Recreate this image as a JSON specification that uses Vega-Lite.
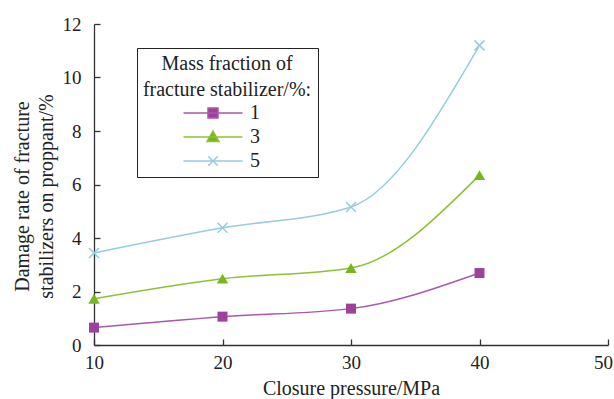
{
  "$schema": "https://vega.github.io/schema/vega-lite/v6.json",
  "width": 514,
  "height": 321,
  "autosize": {"type": "none"},
  "padding": {"left": 94, "top": 24, "right": 6, "bottom": 54},
  "background": "white",
  "config": {
    "view": {"stroke": null},
    "font": "Liberation Serif",
    "axis": {
      "grid": false,
      "domainColor": "#333333",
      "domainWidth": 1.3,
      "tickColor": "#333333",
      "tickWidth": 1.3,
      "tickSize": -6,
      "labelFont": "Liberation Serif",
      "labelFontSize": 19,
      "labelColor": "#222222",
      "titleFont": "Liberation Serif",
      "titleFontSize": 20,
      "titleFontWeight": "normal",
      "titleColor": "#222222"
    },
    "legend": {
      "orient": "none",
      "legendX": 43,
      "legendY": 24,
      "strokeColor": "#222222",
      "fillColor": "white",
      "padding": 6,
      "titleFont": "Liberation Serif",
      "titleFontSize": 20,
      "titleFontWeight": "normal",
      "titleColor": "#222222",
      "titleAlign": "center",
      "titleAnchor": "middle",
      "titleLineHeight": 26,
      "titlePadding": 2,
      "labelFont": "Liberation Serif",
      "labelFontSize": 20,
      "labelColor": "#222222",
      "labelOffset": 26,
      "symbolSize": 400,
      "symbolStrokeWidth": 1.5,
      "symbolOffset": 9,
      "symbolOpacity": 1,
      "rowPadding": 3
    }
  },
  "data": {
    "values": [
      {"pressure": 10, "rate": 0.65, "series": "1"},
      {"pressure": 20, "rate": 1.06, "series": "1"},
      {"pressure": 30, "rate": 1.36, "series": "1"},
      {"pressure": 40, "rate": 2.69, "series": "1"},
      {"pressure": 10, "rate": 1.73, "series": "3"},
      {"pressure": 20, "rate": 2.48, "series": "3"},
      {"pressure": 30, "rate": 2.88, "series": "3"},
      {"pressure": 40, "rate": 6.35, "series": "3"},
      {"pressure": 10, "rate": 3.44, "series": "5"},
      {"pressure": 20, "rate": 4.38, "series": "5"},
      {"pressure": 30, "rate": 5.16, "series": "5"},
      {"pressure": 40, "rate": 11.2, "series": "5"}
    ]
  },
  "encoding": {
    "x": {
      "field": "pressure",
      "type": "quantitative",
      "scale": {"domain": [10, 50]},
      "axis": {
        "values": [10, 20, 30, 40, 50],
        "title": "Closure pressure/MPa",
        "labelPadding": 14,
        "titlePadding": 6,
        "labelFlush": false,
        "labelOffset": {"condition": {"test": "datum.value === 50", "value": -5}, "value": 0}
      }
    },
    "y": {
      "field": "rate",
      "type": "quantitative",
      "scale": {"domain": [0, 12]},
      "axis": {
        "values": [0, 2, 4, 6, 8, 10, 12],
        "title": ["Damage rate of fracture", "stabilizers on proppant/%"],
        "titleLineHeight": 24,
        "titleY": 172,
        "titleX": -62,
        "titleAngle": -90,
        "titleBaseline": "bottom",
        "labelPadding": 19
      }
    }
  },
  "layer": [
    {
      "mark": {"type": "line", "interpolate": "monotone", "strokeWidth": 1.5},
      "encoding": {
        "stroke": {
          "field": "series",
          "type": "nominal",
          "scale": {"domain": ["1", "3", "5"], "range": ["#a85aa8", "#8cc332", "#96cce0"]},
          "title": ["Mass fraction of", "fracture stabilizer/%:"]
        }
      }
    },
    {
      "transform": [{"filter": "datum.series === '1'"}],
      "mark": {"type": "point", "shape": "square", "filled": true, "size": 100, "opacity": 1},
      "encoding": {
        "fill": {
          "field": "series",
          "type": "nominal",
          "scale": {"domain": ["1", "3", "5"], "range": ["#9c429c", "#78b51e", "#8cc4d8"]},
          "title": ["Mass fraction of", "fracture stabilizer/%:"]
        }
      }
    },
    {
      "transform": [{"filter": "datum.series === '3'"}],
      "mark": {"type": "point", "shape": "triangle-up", "filled": true, "size": 130, "opacity": 1},
      "encoding": {
        "fill": {"field": "series", "type": "nominal", "title": ["Mass fraction of", "fracture stabilizer/%:"]}
      }
    },
    {
      "transform": [{"filter": "datum.series === '5'"}],
      "mark": {"type": "point", "shape": "M-1,-1L1,1M-1,1L1,-1", "filled": false, "size": 100, "strokeWidth": 1.5, "opacity": 1},
      "encoding": {
        "stroke": {"field": "series", "type": "nominal", "title": ["Mass fraction of", "fracture stabilizer/%:"]}
      }
    },
    {
      "mark": {"type": "point", "filled": true, "opacity": 0, "strokeWidth": 1.5},
      "encoding": {
        "fill": {"field": "series", "type": "nominal", "title": ["Mass fraction of", "fracture stabilizer/%:"]},
        "stroke": {"field": "series", "type": "nominal", "title": ["Mass fraction of", "fracture stabilizer/%:"]},
        "shape": {
          "field": "series",
          "type": "nominal",
          "title": ["Mass fraction of", "fracture stabilizer/%:"],
          "scale": {
            "domain": ["1", "3", "5"],
            "range": [
              "M-2.95,0H2.95M-0.5,-0.5H0.5V0.5H-0.5Z",
              "M-2.95,0H2.95M0,-0.6L0.6,0.45L-0.6,0.45Z",
              "M-2.95,0H2.95M-0.48,-0.48L0.48,0.48M-0.48,0.48L0.48,-0.48"
            ]
          }
        }
      }
    }
  ]
}
